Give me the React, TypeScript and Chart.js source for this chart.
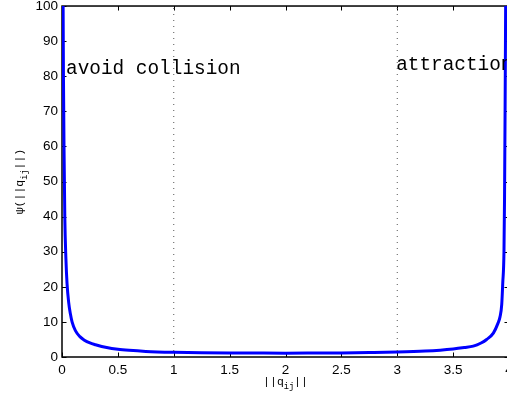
import React, { useEffect, useRef } from "react";
import { Chart, registerables } from "chart.js";

Chart.register(...registerables);

// distance ||q_ij|| and potential psi
const distance = [
  0.01, 0.013, 0.018, 0.025, 0.035, 0.045, 0.06, 0.075, 0.09, 0.12, 0.16, 0.2, 0.25, 0.3, 0.4, 0.5, 0.6, 0.75,
  1, 1.25, 1.5, 1.75, 2, 2.25, 2.5, 2.75, 3, 3.25, 3.5, 3.6, 3.68, 3.75, 3.8, 3.86, 3.9, 3.92, 3.935, 3.944,
  3.955, 3.96, 3.965, 3.97,
];
const psi = [
  100, 80, 60, 40, 28, 21, 15.5, 12.3, 10, 7.5, 5.8, 4.8, 4.0, 3.5, 2.7, 2.2, 1.9, 1.6,
  1.35, 1.22, 1.15, 1.12, 1.1, 1.12, 1.15, 1.25, 1.4, 1.7, 2.3, 2.7, 3.1, 4.0, 5.0, 6.8, 9.5, 11.5, 15, 21,
  30, 45, 70, 100,
];

const xTickValues = [0, 0.5, 1, 1.5, 2, 2.5, 3, 3.5, 4];
const yTickValues = [0, 10, 20, 30, 40, 50, 60, 70, 80, 90, 100];
const dividerX = [1, 3];
const regionLabels = ["avoid collision", "attraction"];
const regionLabelX = [0.036, 2.99];
const regionLabelY = [82.1, 83.2];
const xTitle = ["||q", "ij", "||"];
const yTitle = ["\u03c8(||q", "ij", "||)"];

const CANVAS_W = 530;
const CANVAS_H = 402;
const MONO = '"Liberation Mono", "DejaVu Sans Mono", monospace';
const SANS = '"Liberation Sans", Arial, sans-serif';

function drawSubText(ctx: CanvasRenderingContext2D, parts: string[], cx: number, cy: number, size: number) {
  const big = `${size}px ${MONO}`;
  const small = `${size * 0.75}px ${MONO}`;
  ctx.font = big;
  const w0 = ctx.measureText(parts[0]).width;
  const w2 = ctx.measureText(parts[2]).width;
  ctx.font = small;
  const w1 = ctx.measureText(parts[1]).width;
  const total = w0 + w1 + w2;
  let x = cx - total / 2;
  ctx.textBaseline = "alphabetic";
  ctx.textAlign = "left";
  const base = cy + size * 0.3;
  ctx.font = big;
  ctx.fillText(parts[0], x, base);
  x += w0;
  ctx.font = small;
  ctx.fillText(parts[1], x, base + size * 0.3);
  x += w1;
  ctx.font = big;
  ctx.fillText(parts[2], x, base);
}

const framePlugin = {
  id: "frame",
  beforeDatasetsDraw(chart: any) {
    const { ctx, chartArea: a, scales } = chart;
    ctx.save();
    ctx.strokeStyle = "#000";
    ctx.lineWidth = 1.5;
    ctx.strokeRect(a.left, a.top, a.right - a.left, a.bottom - a.top);
    ctx.lineWidth = 1;
    const tl = 4.5;
    ctx.beginPath();
    xTickValues.forEach((v) => {
      const px = Math.round(scales.x.getPixelForValue(v)) + 0.5;
      ctx.moveTo(px, a.bottom);
      ctx.lineTo(px, a.bottom - tl);
      ctx.moveTo(px, a.top);
      ctx.lineTo(px, a.top + tl);
    });
    yTickValues.forEach((v) => {
      const py = Math.round(scales.y.getPixelForValue(v)) + 0.5;
      ctx.moveTo(a.left, py);
      ctx.lineTo(a.left + tl, py);
      ctx.moveTo(a.right, py);
      ctx.lineTo(a.right - tl, py);
    });
    ctx.stroke();
    ctx.restore();
  },
  afterDraw(chart: any) {
    const { ctx, chartArea: a, scales } = chart;
    ctx.save();
    ctx.fillStyle = "#000";
    ctx.font = `19.4px ${MONO}`;
    ctx.textBaseline = "middle";
    ctx.textAlign = "left";
    regionLabels.forEach((t, i) => {
      ctx.fillText(t, scales.x.getPixelForValue(regionLabelX[i]), scales.y.getPixelForValue(regionLabelY[i]));
    });
    drawSubText(ctx, xTitle, (a.left + a.right) / 2, 382, 11.5);
    ctx.translate(20, (a.top + a.bottom) / 2);
    ctx.rotate(-Math.PI / 2);
    drawSubText(ctx, yTitle, 0, 0, 11.5);
    ctx.restore();
  },
};

export default function App() {
  const ref = useRef<HTMLCanvasElement>(null);
  useEffect(() => {
    if (!ref.current) return;
    const curve = distance.map((x, i) => ({ x, y: psi[i] }));
    const dividers = dividerX.map((x) => ({
      data: [
        { x, y: yTickValues[0] },
        { x, y: yTickValues[yTickValues.length - 1] },
      ],
      borderColor: "#555",
      borderWidth: 1,
      borderDash: [1, 5],
      pointRadius: 0,
      fill: false,
    }));
    const chart = new Chart(ref.current, {
      type: "line",
      data: {
        datasets: [
          ...dividers,
          {
            data: curve,
            borderColor: "#0000ff",
            borderWidth: 3,
            pointRadius: 0,
            fill: false,
            cubicInterpolationMode: "monotone",
          },
        ],
      },
      options: {
        animation: false,
        responsive: false,
        devicePixelRatio: 1,
        layout: { padding: { top: 6, right: 21, left: 0, bottom: 0 } },
        plugins: { legend: { display: false }, tooltip: { enabled: false } },
        scales: {
          x: {
            type: "linear",
            min: 0,
            max: 4,
            afterBuildTicks: (s: any) => {
              s.ticks = xTickValues.map((value) => ({ value }));
            },
            afterFit: (s: any) => {
              s.height = 45;
            },
            grid: { display: false, drawTicks: false },
            border: { display: false },
            ticks: {
              color: "#000",
              font: { family: SANS, size: 13.5 },
              padding: 5,
              maxRotation: 0,
              autoSkip: false,
              callback: (v: any) => String(v),
            },
          },
          y: {
            type: "linear",
            min: 0,
            max: 100,
            afterBuildTicks: (s: any) => {
              s.ticks = yTickValues.map((value) => ({ value }));
            },
            afterFit: (s: any) => {
              s.width = 62;
            },
            grid: { display: false, drawTicks: false },
            border: { display: false },
            ticks: {
              color: "#000",
              font: { family: SANS, size: 13.5, lineHeight: 0.3 },
              padding: 4,
              autoSkip: false,
              callback: (v: any) => String(v),
            },
          },
        },
      } as any,
      plugins: [framePlugin],
    });
    return () => chart.destroy();
  }, []);
  return (
    <div style={{ position: "fixed", left: 0, top: 0, width: 507, height: 402, overflow: "hidden", background: "#fff" }}>
      <canvas ref={ref} width={CANVAS_W} height={CANVAS_H} style={{ display: "block", width: CANVAS_W, height: CANVAS_H }} />
    </div>
  );
}
